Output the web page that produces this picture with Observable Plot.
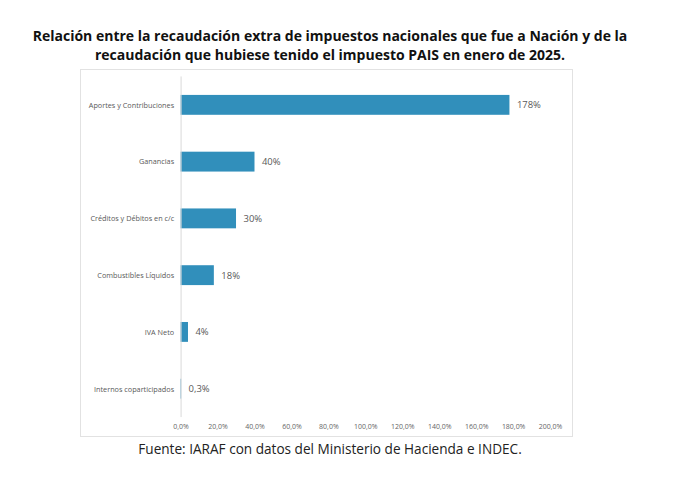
<!DOCTYPE html>
<html>
<head>
<meta charset="utf-8">
<script src="https://cdn.jsdelivr.net/npm/d3@7"></script>
<script src="https://cdn.jsdelivr.net/npm/@observablehq/plot@0.6"></script>
<style>
  html, body { margin: 0; padding: 0; background: #ffffff; }
  #page { position: relative; width: 684px; height: 477px; overflow: hidden; font-family: "Open Sans", sans-serif; }
  #title { position: absolute; left: 0; width: 660px; top: 26px; text-align: center; font-weight: 700; font-size: 14px; line-height: 19px; color: #111; }
  #box { position: absolute; left: 80px; top: 69px; width: 493px; height: 368px; border: 1px solid #e2e2e2; box-sizing: border-box; }
  #box svg { position: absolute; left: -1px; top: -1px; }
  #caption { position: absolute; left: 0; width: 660px; top: 439px; text-align: center; font-size: 13.6px; line-height: 19px; color: #222; }
</style>
</head>
<body>
<div id="page">
  <div id="title">Relación entre la recaudación extra de impuestos nacionales que fue a Nación y de la<br>recaudación que hubiese tenido el impuesto PAIS en enero de 2025.</div>
  <div id="box"></div>
  <div id="caption">Fuente: IARAF con datos del Ministerio de Hacienda e INDEC.</div>
</div>
<script>
const categories = ["Aportes y Contribuciones", "Ganancias", "Créditos y Débitos en c/c", "Combustibles Líquidos", "IVA Neto", "Internos coparticipados"];
const values = [178, 40, 30, 18, 4, 0.3];
const valueLabels = ["178%", "40%", "30%", "18%", "4%", "0,3%"];
const xTicks = [0, 20, 40, 60, 80, 100, 120, 140, 160, 180, 200];
const xTickLabels = ["0,0%", "20,0%", "40,0%", "60,0%", "80,0%", "100,0%", "120,0%", "140,0%", "160,0%", "180,0%", "200,0%"];

const data = categories.map((c, i) => ({cat: c, value: values[i], label: valueLabels[i]}));

const chart = Plot.plot({
  width: 493,
  height: 368,
  marginLeft: 101,
  marginRight: 21,
  marginTop: 7.5,
  marginBottom: 18.5,
  style: {fontFamily: "'Open Sans', sans-serif", background: "transparent", color: "#595959"},
  x: {domain: [0, 200], round: false, label: null},
  y: {domain: categories, paddingInner: 0.65, paddingOuter: 0.325, round: false, label: null},
  marks: [
    Plot.barX(data, {x: "value", y: "cat", fill: "#318fbb"}),
    Plot.ruleX([0], {stroke: "#d9d9d9", strokeWidth: 1}),
    Plot.text(data, {x: "value", y: "cat", text: "label", dx: 7, textAnchor: "start", fontSize: 9.5, fill: "#595959"}),
    Plot.axisY({tickSize: 0, tickPadding: 7, fontSize: 7.3, fill: "#595959", label: null}),
    Plot.axisX({ticks: xTicks, tickFormat: (d) => xTickLabels[xTicks.indexOf(d)], tickSize: 0, tickPadding: 7, fontSize: 7, fill: "#666666", label: null})
  ]
});
document.getElementById("box").appendChild(chart);
</script>
</body>
</html>
